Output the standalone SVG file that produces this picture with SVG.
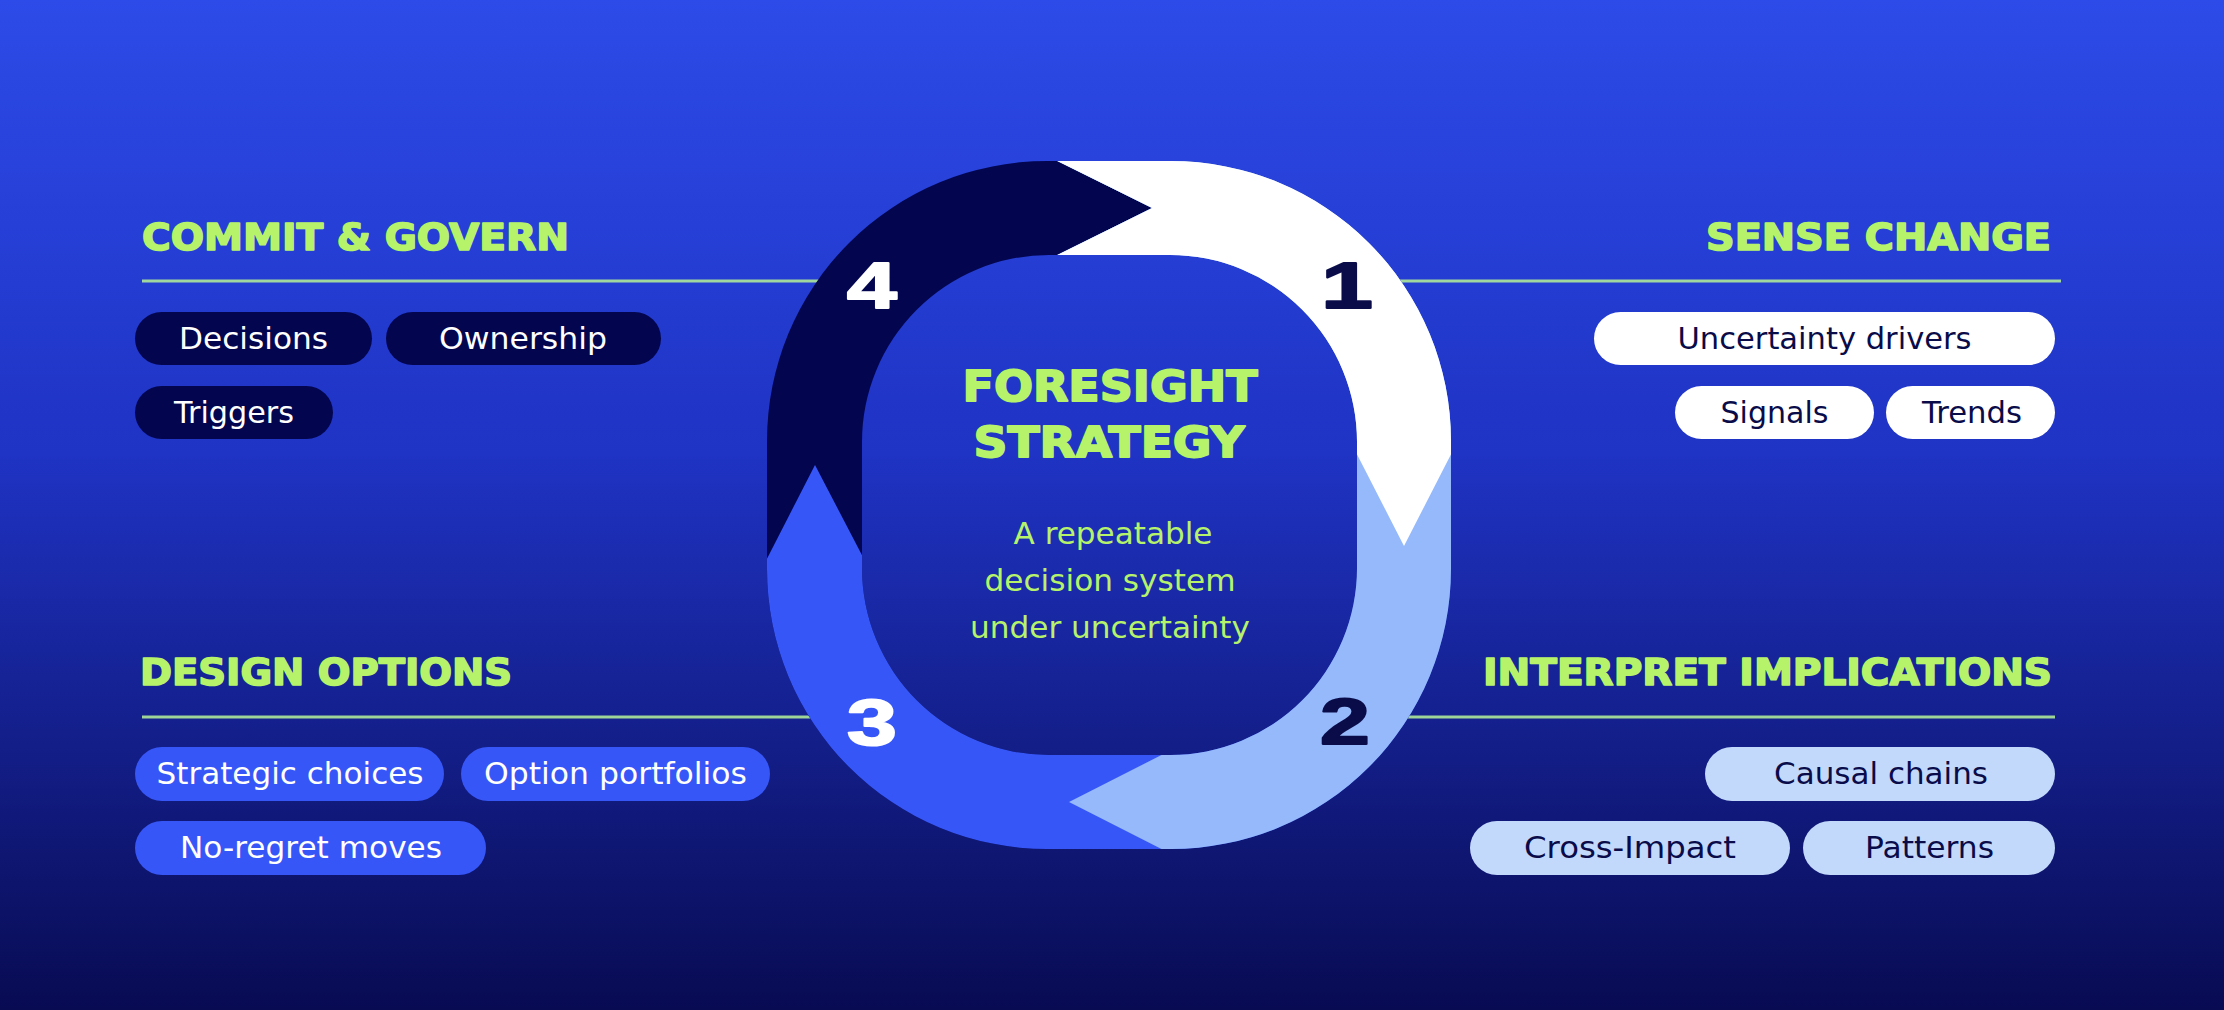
<svg xmlns="http://www.w3.org/2000/svg" width="2224" height="1010" viewBox="0 0 2224 1010">
<defs>
<linearGradient id="bg" x1="0" y1="0" x2="0" y2="1">
<stop offset="0" stop-color="#2D4BE8"/>
<stop offset="0.45" stop-color="#1F33C4"/>
<stop offset="1" stop-color="#080B52"/>
</linearGradient>
<path id="ring" fill-rule="evenodd" d="M1047,161 H1171 A280,280 0 0 1 1451,441 V569 A280,280 0 0 1 1171,849 H1047 A280,280 0 0 1 767,569 V441 A280,280 0 0 1 1047,161 Z M1049,255 H1170 A187,187 0 0 1 1357,442 V568 A187,187 0 0 1 1170,755 H1049 A187,187 0 0 1 862,568 V442 A187,187 0 0 1 1049,255 Z"/>
<clipPath id="cNotNavy"><polygon points="754,584 815,465 877,584 1109,505 1031,268 1152,208 1031,148 1031,0 1700,0 1700,1010 600,1010 600,584"/></clipPath>
<clipPath id="cLightWhite"><polygon points="1031,148 1152,208 1031,268 1109,505 1189,741 1069,802 1189,863 1189,1010 1700,1010 1700,0 1031,0"/></clipPath>
<clipPath id="cWhite"><polygon points="1031,148 1152,208 1031,268 1109,505 1343,427 1404,546 1465,427 1700,427 1700,0 1031,0"/></clipPath>
<style>
.hd{font-family:"DejaVu Sans","Liberation Sans",sans-serif;font-weight:bold;font-size:37px;fill:#B6F36B;stroke:#B6F36B;stroke-width:1.6px;stroke-linejoin:round}
.ttl{font-family:"DejaVu Sans","Liberation Sans",sans-serif;font-weight:bold;font-size:43px;fill:#B6F36B;stroke:#B6F36B;stroke-width:1.8px;stroke-linejoin:round}
.sub{font-family:"DejaVu Sans","Liberation Sans",sans-serif;font-size:31px;fill:#B6F36B}
.rule{stroke:#AEE89A;stroke-width:3;opacity:0.9}
.pt{font-family:"DejaVu Sans","Liberation Sans",sans-serif;font-size:30px;text-anchor:middle}
.num{font-family:"Liberation Sans",Arial,sans-serif;font-weight:bold;font-size:64px;text-anchor:middle;stroke-width:2px;stroke-linejoin:round}
.navyP{fill:#03064F}
.whiteP{fill:#FFFFFF}
.blueP{fill:#3656F8}
.lightP{fill:#C3D9FB}
.wt{fill:#FFFFFF}
.dt{fill:#0A0C4A}
.num.wt{stroke:#FFFFFF}
.num.dt{stroke:#0A0C4A}
</style>
</defs>
<rect x="0" y="0" width="2224" height="1010" fill="url(#bg)"/>

<g id="connectors">
<line class="rule" x1="142" y1="281" x2="840" y2="281"/>
<line class="rule" x1="1380" y1="281" x2="2061" y2="281"/>
<line class="rule" x1="142" y1="717" x2="840" y2="717"/>
<line class="rule" x1="1380" y1="717" x2="2055" y2="717"/>
</g>

<g id="cycle">
<use href="#ring" fill="#03064F"/>
<use href="#ring" fill="#3656F8" clip-path="url(#cNotNavy)"/>
<use href="#ring" fill="#95B9FA" clip-path="url(#cLightWhite)"/>
<use href="#ring" fill="#FFFFFF" clip-path="url(#cWhite)"/>
<text class="num wt" transform="translate(872,308) scale(1.4,1)">4</text>
<text class="num dt" transform="translate(1347,308) scale(1.45,1)">1</text>
<text class="num dt" transform="translate(1345,744) scale(1.4,1)">2</text>
<text class="num wt" transform="translate(872,745) scale(1.4,1)">3</text>
</g>

<g id="center">
<text class="ttl" x="1110" y="401" text-anchor="middle" textLength="295" lengthAdjust="spacingAndGlyphs">FORESIGHT</text>
<text class="ttl" x="1109" y="457" text-anchor="middle" textLength="271" lengthAdjust="spacingAndGlyphs">STRATEGY</text>
<text class="sub" x="1113" y="544" text-anchor="middle" textLength="199" lengthAdjust="spacingAndGlyphs">A repeatable</text>
<text class="sub" x="1110" y="591" text-anchor="middle" textLength="251" lengthAdjust="spacingAndGlyphs">decision system</text>
<text class="sub" x="1110" y="638" text-anchor="middle" textLength="280" lengthAdjust="spacingAndGlyphs">under uncertainty</text>
</g>

<g id="commit-govern">
<text class="hd" x="142" y="250" textLength="427" lengthAdjust="spacingAndGlyphs">COMMIT &amp; GOVERN</text>
<rect class="navyP" x="135" y="312" width="237" height="53" rx="26.5"/>
<text class="pt wt" x="253.5" y="349" textLength="149" lengthAdjust="spacingAndGlyphs">Decisions</text>
<rect class="navyP" x="386" y="312" width="275" height="53" rx="26.5"/>
<text class="pt wt" x="523" y="349" textLength="168" lengthAdjust="spacingAndGlyphs">Ownership</text>
<rect class="navyP" x="135" y="386" width="198" height="53" rx="26.5"/>
<text class="pt wt" x="234" y="423" textLength="120" lengthAdjust="spacingAndGlyphs">Triggers</text>
</g>

<g id="sense-change">
<text class="hd" x="2051" y="250" text-anchor="end" textLength="345" lengthAdjust="spacingAndGlyphs">SENSE CHANGE</text>
<rect class="whiteP" x="1594" y="312" width="461" height="53" rx="26.5"/>
<text class="pt dt" x="1824.5" y="349" textLength="294" lengthAdjust="spacingAndGlyphs">Uncertainty drivers</text>
<rect class="whiteP" x="1675" y="386" width="199" height="53" rx="26.5"/>
<text class="pt dt" x="1774.5" y="423" textLength="108" lengthAdjust="spacingAndGlyphs">Signals</text>
<rect class="whiteP" x="1886" y="386" width="169" height="53" rx="26.5"/>
<text class="pt dt" x="1972" y="423" textLength="100" lengthAdjust="spacingAndGlyphs">Trends</text>
</g>

<g id="design-options">
<text class="hd" x="140" y="685" textLength="372" lengthAdjust="spacingAndGlyphs">DESIGN OPTIONS</text>
<rect class="blueP" x="135" y="747" width="309" height="54" rx="27"/>
<text class="pt wt" x="290" y="784" textLength="267" lengthAdjust="spacingAndGlyphs">Strategic choices</text>
<rect class="blueP" x="461" y="747" width="309" height="54" rx="27"/>
<text class="pt wt" x="615.5" y="784" textLength="263" lengthAdjust="spacingAndGlyphs">Option portfolios</text>
<rect class="blueP" x="135" y="821" width="351" height="54" rx="27"/>
<text class="pt wt" x="311" y="858" textLength="262" lengthAdjust="spacingAndGlyphs">No-regret moves</text>
</g>

<g id="interpret-implications">
<text class="hd" x="2052" y="685" text-anchor="end" textLength="569" lengthAdjust="spacingAndGlyphs">INTERPRET IMPLICATIONS</text>
<rect class="lightP" x="1705" y="747" width="350" height="54" rx="27"/>
<text class="pt dt" x="1881" y="784" textLength="214" lengthAdjust="spacingAndGlyphs">Causal chains</text>
<rect class="lightP" x="1470" y="821" width="320" height="54" rx="27"/>
<text class="pt dt" x="1630" y="858" textLength="212" lengthAdjust="spacingAndGlyphs">Cross-Impact</text>
<rect class="lightP" x="1803" y="821" width="252" height="54" rx="27"/>
<text class="pt dt" x="1929.5" y="858" textLength="129" lengthAdjust="spacingAndGlyphs">Patterns</text>
</g>
</svg>
